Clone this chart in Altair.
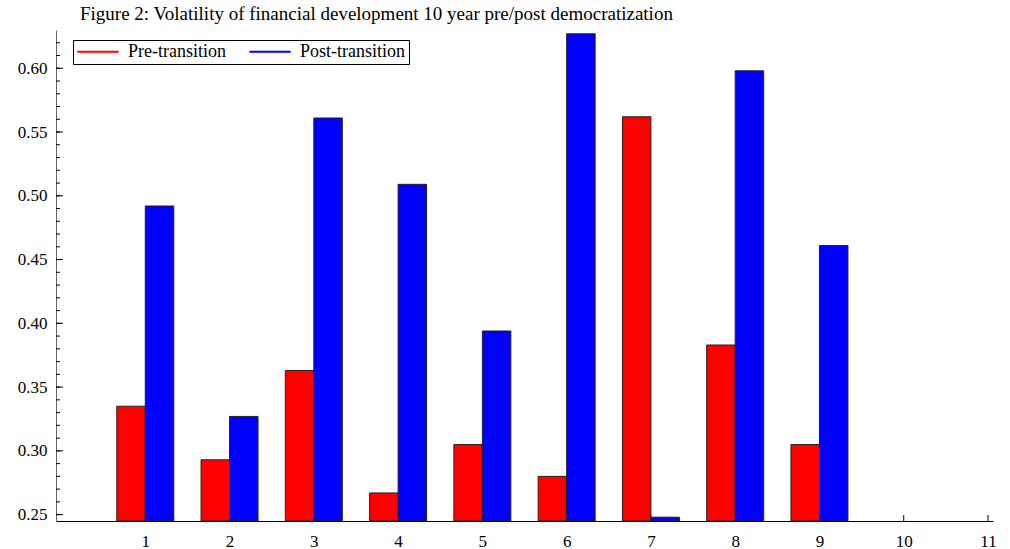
import altair as alt
import pandas as pd

categories = [1, 2, 3, 4, 5, 6, 7, 8, 9]
pre_values = [0.335, 0.293, 0.363, 0.267, 0.305, 0.280, 0.562, 0.383, 0.305]
post_values = [0.492, 0.327, 0.561, 0.509, 0.394, 0.627, 0.248, 0.598, 0.461]
series_names = ["Pre-transition", "Post-transition"]
series_colors = ["#FF0000", "#0000FF"]
x_ticks = [1, 2, 3, 4, 5, 6, 7, 8, 9, 10, 11]
y_major = [0.25, 0.30, 0.35, 0.40, 0.45, 0.50, 0.55, 0.60]
y_minor = [round(0.25 + 0.01 * i, 2) for i in range(38)]

W, H = 937, 491
FONT = "Liberation Serif"

pre_df = pd.DataFrame({"cat": categories, "value": pre_values, "series": series_names[0]})
post_df = pd.DataFrame({"cat": categories, "value": post_values, "series": series_names[1]})
legend_df = pd.DataFrame({"series": series_names})

xscale = alt.Scale(domain=[0, 11], nice=False, zero=False)
yscale = alt.Scale(domain=[0.245, 0.63], nice=False, zero=False)

x_axis = alt.Axis(values=x_ticks, ticks=False, grid=False, labelPadding=12, format="d",
                  domainColor="#000000", labelFont=FONT, labelFontSize=17, labelColor="#000",
                  title=None)
y_axis = alt.Axis(values=y_major, ticks=False, grid=False, labelPadding=9, format=".2f",
                  domainColor="#666666", labelFont=FONT, labelFontSize=17, labelColor="#000",
                  title=None)

xt = alt.Chart(pd.DataFrame({"t": x_ticks})).mark_rule(color="#000", strokeWidth=1).encode(
    x=alt.X("t:Q", scale=xscale, axis=x_axis),
    y=alt.value(H), y2=alt.value(H - 6),
)
ymaj = alt.Chart(pd.DataFrame({"t": y_major})).mark_rule(color="#000", strokeWidth=1).encode(
    y=alt.Y("t:Q", scale=yscale, axis=y_axis),
    x=alt.value(0), x2=alt.value(7),
)
ymin = alt.Chart(pd.DataFrame({"t": y_minor})).mark_rule(color="#000", strokeWidth=1).encode(
    y=alt.Y("t:Q", scale=yscale),
    x=alt.value(0), x2=alt.value(4),
)

def bars(d, offset, colour):
    return alt.Chart(d).mark_bar(width=28.5, xOffset=offset, fill=colour,
                                 stroke="#222222", strokeWidth=1).encode(
        x=alt.X("cat:Q", scale=xscale),
        y=alt.Y("value:Q", scale=yscale, stack=None),
        y2=alt.value(H),
    )

pre_bars = bars(pre_df, -14.25, series_colors[0])
post_bars = bars(post_df, 14.25, series_colors[1])

legend = alt.Legend(title=None, orient="none", legendX=17, legendY=10,
                    direction="horizontal", symbolType="stroke",
                    symbolSize=1700, symbolStrokeWidth=2, clipHeight=17,
                    labelFont=FONT, labelFontSize=18, labelColor="#000",
                    strokeColor="#000", padding=3, columnPadding=22,
                    labelOffset=8, fillColor="white")

# zero-length lines: only used to produce the line-style legend
legend_layer = alt.Chart(legend_df).mark_line(strokeWidth=2, strokeCap="butt").encode(
    x=alt.value(0),
    y=alt.value(0),
    color=alt.Color("series:N", scale=alt.Scale(domain=series_names, range=series_colors),
                    legend=legend),
)

chart = alt.layer(xt, ymaj, ymin, pre_bars, post_bars, legend_layer).properties(
    width=W, height=H,
    title=alt.Title("Figure 2: Volatility of financial development 10 year pre/post democratization",
                    anchor="start", frame="group", dx=24, offset=2, font=FONT, fontSize=19,
                    fontWeight="normal", color="#000"),
    autosize=alt.AutoSizeParams(type="none"),
    padding={"left": 56, "top": 30, "right": 17, "bottom": 28},
    background="white",
).configure_view(strokeWidth=0, stroke="transparent")

chart.save("out.html", embed_options={"renderer": "svg", "actions": False})
